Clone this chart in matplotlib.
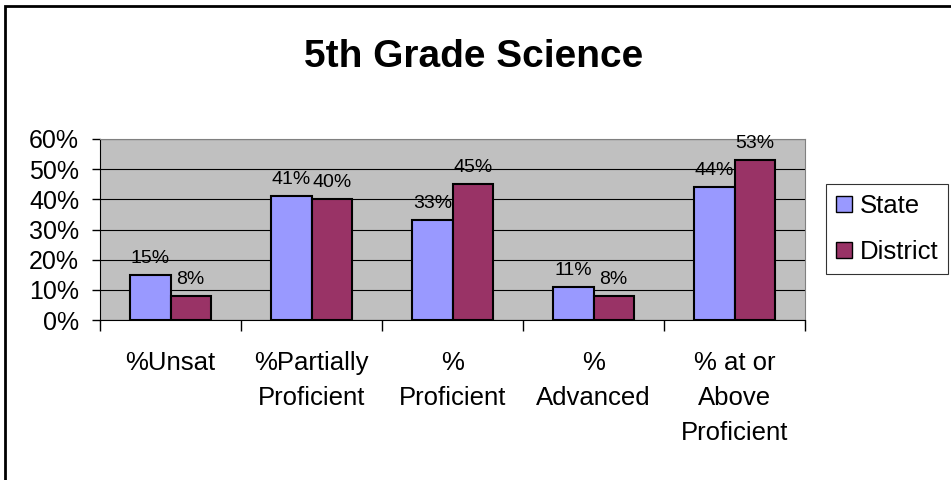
import matplotlib.pyplot as plt
import matplotlib.patches as mpatches
import numpy as np

plt.rcParams['font.family'] = ['Liberation Sans', 'DejaVu Sans']

categories = ['%Unsat', '%Partially\nProficient', '%\nProficient', '%\nAdvanced', '% at or\nAbove\nProficient']
state = [15, 41, 33, 11, 44]
district = [8, 40, 45, 8, 53]
state_labels = ['15%', '41%', '33%', '11%', '44%']
district_labels = ['8%', '40%', '45%', '8%', '53%']

state_color = '#9999FF'
district_color = '#993366'

fig = plt.figure(figsize=(9.51, 4.8), dpi=100)
ax = fig.add_axes([100 / 951, 160 / 480, 705 / 951, 181 / 480])
ax.set_facecolor('#C0C0C0')

x = np.arange(len(categories))
w = 1 / 3.5
ax.bar(x - w / 2, state, w, color=state_color, edgecolor='black', linewidth=1.5, zorder=3)
ax.bar(x + w / 2, district, w, color=district_color, edgecolor='black', linewidth=1.5, zorder=3)

for i in range(len(categories)):
	ax.text(x[i] - w / 2, state[i] + 4, state_labels[i], ha='center', va='baseline', fontsize=14, zorder=4)
	ax.text(x[i] + w / 2, district[i] + 4, district_labels[i], ha='center', va='baseline', fontsize=14, zorder=4)

ax.set_xlim(-0.5, len(categories) - 0.5)
ax.set_ylim(0, 60)
ax.set_yticks(range(0, 61, 10))
ax.set_yticklabels([str(v) + '%' for v in range(0, 61, 10)], fontsize=18)
ax.yaxis.grid(True, color='black', linewidth=0.8, zorder=1)
ax.set_axisbelow(True)

ax.set_xticks(np.arange(-0.5, len(categories), 1))
ax.set_xticklabels([])
ax.set_xticks(x, minor=True)
ax.set_xticklabels(categories, minor=True, fontsize=18.5, linespacing=1.6, va='top')
ax.tick_params(axis='x', which='minor', length=0, pad=22)
ax.tick_params(axis='x', which='major', length=8, width=1, direction='out')
ax.tick_params(axis='y', length=6, width=1, direction='out', pad=9)

for s in ['top', 'right']:
	ax.spines[s].set_color('#808080')
for s in ['left', 'bottom']:
	ax.spines[s].set_color('black')

fig.text(474 / 951, 1 - 67 / 480, '5th Grade Science', ha='center', va='baseline', fontsize=28, fontweight='bold')

state_mp = mpatches.Patch(facecolor=state_color, edgecolor='black', label='State')
dist_mp = mpatches.Patch(facecolor=district_color, edgecolor='black', label='District')
leg = fig.legend(handles=[state_mp, dist_mp], loc='upper left', bbox_to_anchor=(826 / 951, 1 - 184 / 480),
	frameon=True, fontsize=18.5, fancybox=False, edgecolor='black', handlelength=0.6, handleheight=0.6,
	handletextpad=0.3, borderpad=0.4, labelspacing=0.85, borderaxespad=0)
leg.get_frame().set_linewidth(0.8)

border = mpatches.Rectangle((5 / 951, -0.1), 1.2, (1 - 6 / 480) + 0.1, transform=fig.transFigure,
	fill=False, edgecolor='black', linewidth=2)
fig.patches.append(border)

plt.savefig('out.png', dpi=100)
